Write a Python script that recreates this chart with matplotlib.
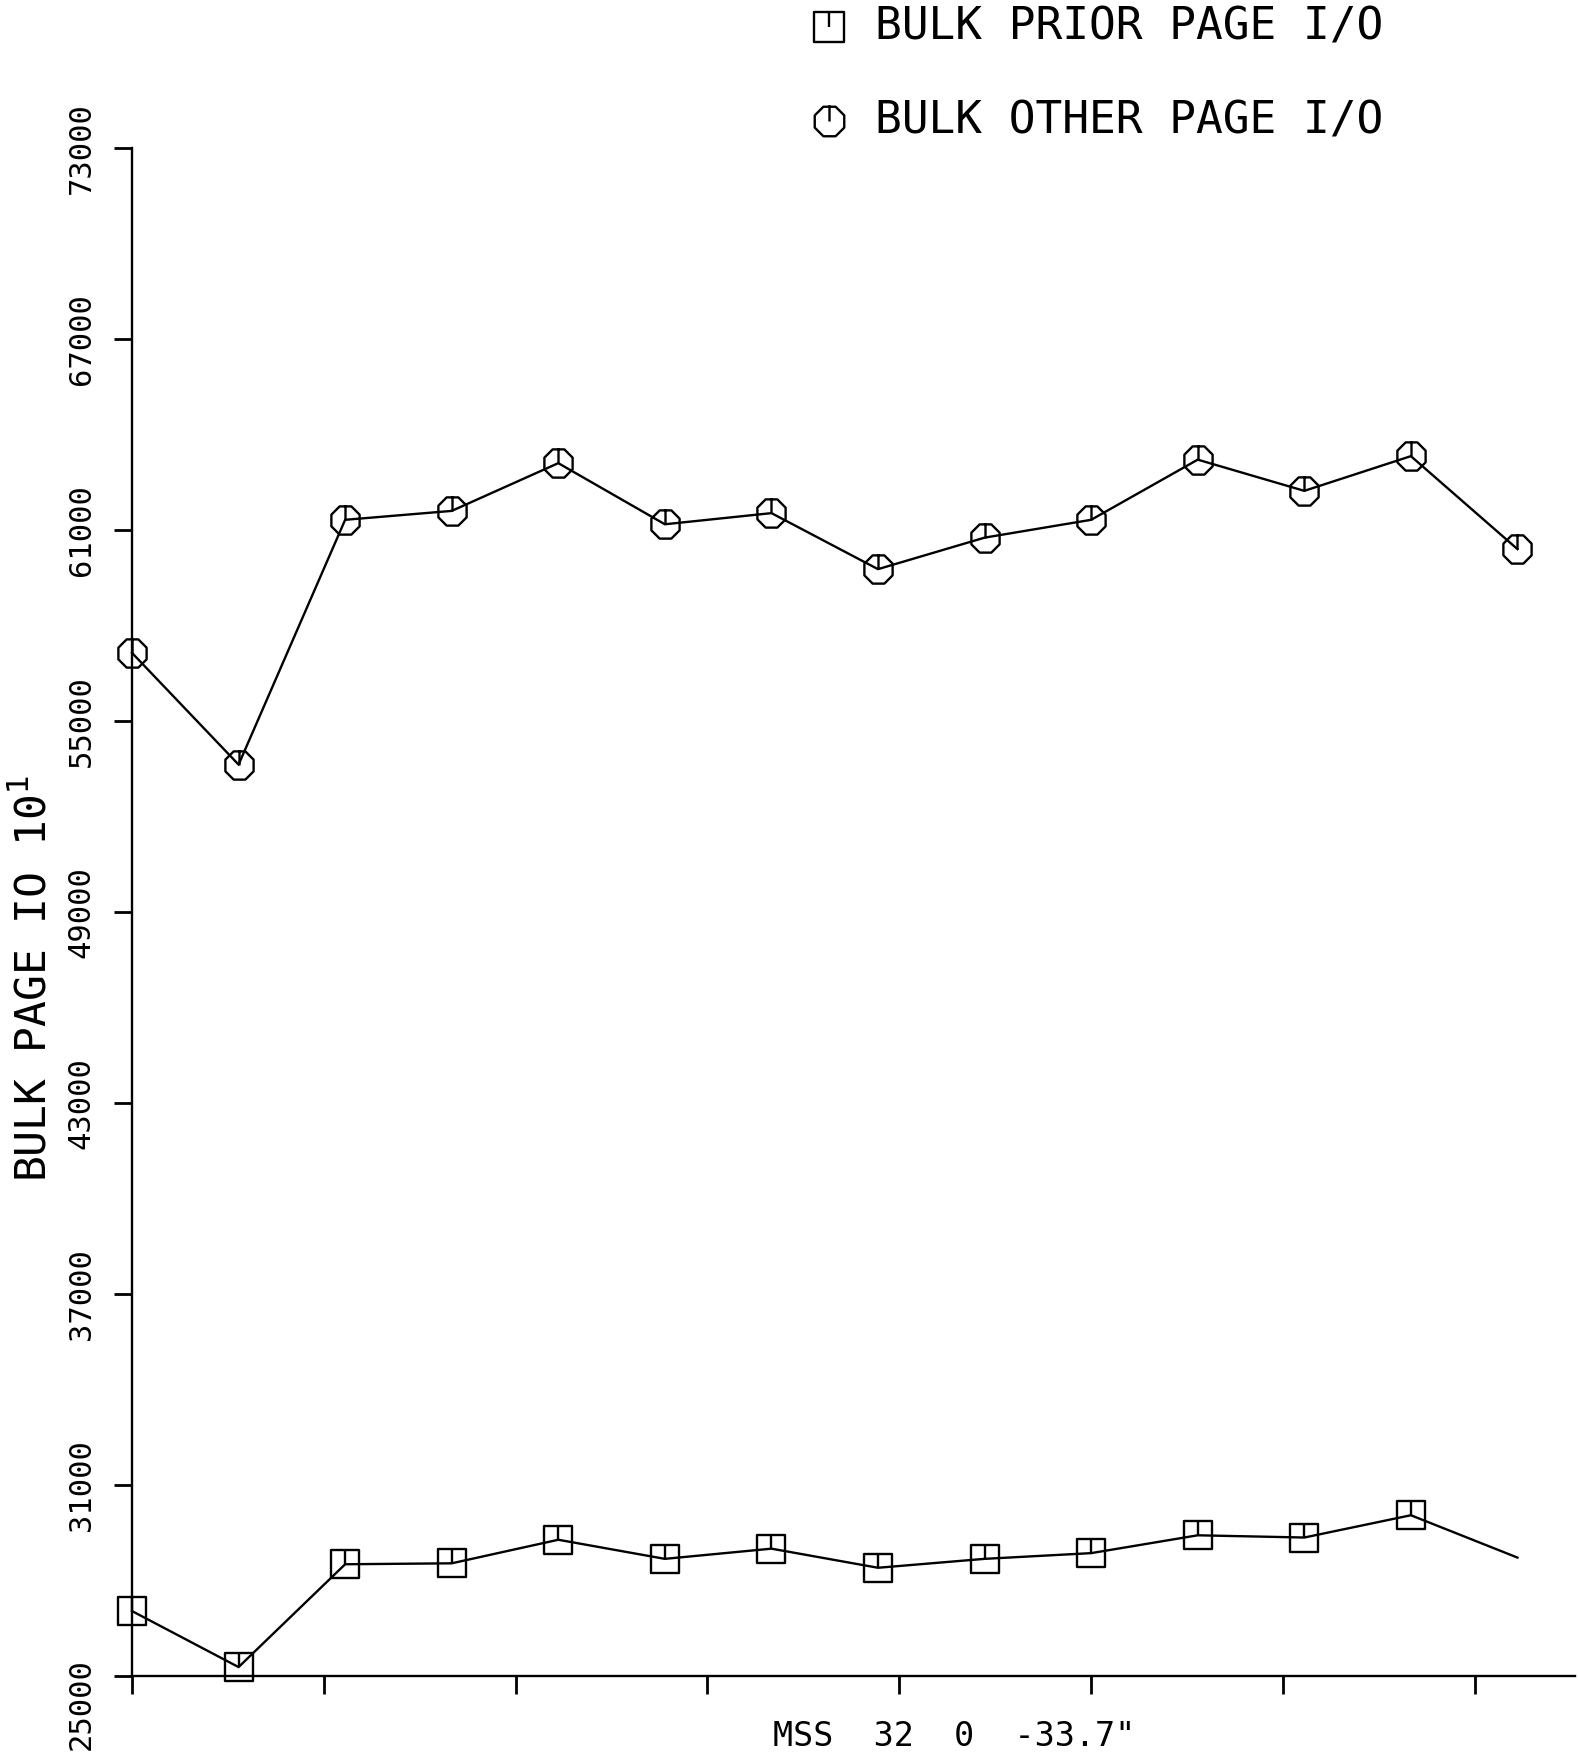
import matplotlib
matplotlib.use("Agg")
import matplotlib.pyplot as plt
import matplotlib.transforms as mtransforms
from matplotlib.path import Path
from matplotlib.lines import Line2D
import numpy as np

# ---- data ----
x_index = list(range(14))
other_page_io = [57140, 53630, 61320, 61600, 63100, 61180, 61530, 59770,
                 60760, 61320, 63210, 62230, 63320, 60400]
prior_page_io = [27040, 25280, 28510, 28540, 29280, 28680, 29000, 28400,
                 28680, 28860, 29420, 29350, 30050, 28720]
y_ticks = [25000, 31000, 37000, 43000, 49000, 55000, 61000, 67000, 73000]
y_tick_labels = ["25000", "31000", "37000", "43000", "49000", "55000",
                 "61000", "67000", "73000"]
x_ticks = [0, 1.8, 3.6, 5.4, 7.2, 9.0, 10.8, 12.6]
legend_labels = ["BULK PRIOR PAGE I/O", "BULK OTHER PAGE I/O"]
y_label = "BULK PAGE IO 10$^1$"
x_label = 'MSS  32  0  -33.7"'

FONT = "DejaVu Sans Mono"
plt.rcParams['font.family'] = [FONT, 'DejaVu Sans']
plt.rcParams['mathtext.fontset'] = 'dejavusans'

# custom markers: outline with a spoke from top to centre
oct_ang = np.deg2rad(22.5 + 45 * np.arange(8))
oct_verts = [(np.cos(a), np.sin(a)) for a in oct_ang]
oct_path = Path(oct_verts + [oct_verts[0], (0, 1), (0, 0)],
                [Path.MOVETO] + [Path.LINETO] * 7 + [Path.CLOSEPOLY, Path.MOVETO, Path.LINETO])
sq_verts = [(-1, -1), (1, -1), (1, 1), (-1, 1)]
sq_path = Path(sq_verts + [sq_verts[0], (0, 1), (0, 0)],
               [Path.MOVETO] + [Path.LINETO] * 3 + [Path.CLOSEPOLY, Path.MOVETO, Path.LINETO])

W, H = 1578, 1752
fig = plt.figure(figsize=(W / 100, H / 100), dpi=100)
ax_left, ax_right = 132 / W, 1575 / W
ax_bottom, ax_top = 1 - 1676 / H, 1 - 148 / H
ax = fig.add_axes([ax_left, ax_bottom, ax_right - ax_left, ax_top - ax_bottom])

lw = 1.7
ax.plot(x_index, other_page_io, color='black', lw=lw, marker=oct_path,
        markersize=22, markerfacecolor='none', markeredgecolor='black',
        markeredgewidth=lw, clip_on=False, zorder=3)
ax.plot(x_index, prior_page_io, color='black', lw=lw, marker=sq_path,
        markersize=20, markerfacecolor='none', markeredgecolor='black',
        markeredgewidth=lw, markevery=list(range(13)), clip_on=False, zorder=3)

ax.set_xlim(0, 13.54)
ax.set_ylim(25000, 73000)
ax.set_yticks(y_ticks)
ax.set_yticklabels(y_tick_labels, rotation=90, va='center', fontsize=22)
ax.set_xticks(x_ticks)
ax.set_xticklabels([])
for s in ['top', 'right']:
    ax.spines[s].set_visible(False)
for s in ['left', 'bottom']:
    ax.spines[s].set_linewidth(1.7)
ax.tick_params(axis='both', direction='out', length=13, width=2, color='black')
ax.tick_params(axis='y', pad=13)
ax.patch.set_alpha(0)

# the lowest tick label sits a little below its tick, as in the original
first_lab = ax.get_yticklabels()[0]
first_lab.set_transform(first_lab.get_transform() +
                        mtransforms.ScaledTranslation(0, -28 / 100, fig.dpi_scale_trans))

# axis labels
fig.text(34 / W, 1 - 978 / H, y_label, rotation=90, ha='center', va='center',
         fontsize=31)
fig.text(954 / W, 1 - 1746 / H, x_label, ha='center', va='baseline', fontsize=24)

# legend (manual)
leg_rows = [(27, sq_path, 21), (121, oct_path, 23)]
for (yy, mk, ms), lab in zip(leg_rows, legend_labels):
    fy = 1 - yy / H
    fig.add_artist(Line2D([829 / W], [fy], transform=fig.transFigure, marker=mk,
                          markersize=ms, markerfacecolor='none',
                          markeredgecolor='black', markeredgewidth=1.7,
                          linestyle='none'))
    fig.text(875 / W, fy, lab, ha='left', va='center', fontsize=32)

fig.savefig("out.png", dpi=100, facecolor='white')
